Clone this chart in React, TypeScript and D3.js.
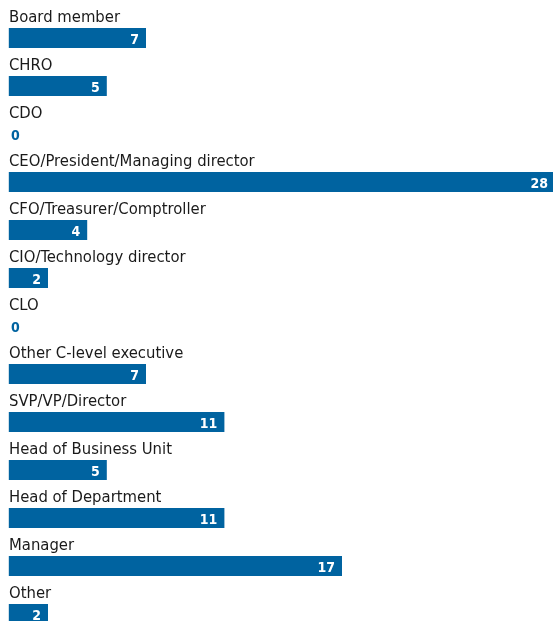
import React from 'react'
import * as d3 from 'd3'

const roles = [
  'Board member',
  'CHRO',
  'CDO',
  'CEO/President/Managing director',
  'CFO/Treasurer/Comptroller',
  'CIO/Technology director',
  'CLO',
  'Other C-level executive',
  'SVP/VP/Director',
  'Head of Business Unit',
  'Head of Department',
  'Manager',
  'Other',
]
const counts = [7, 5, 0, 28, 4, 2, 0, 7, 11, 5, 11, 17, 2]

const BLUE = '#0063a0'
const FONT = '"DejaVu Sans Condensed", "Liberation Sans Narrow", "Open Sans", sans-serif'

const App = () => {
  const width = 553
  const height = 621
  const rowStep = 48
  const barH = 20
  const left = 9

  // the longest bar runs past the right edge and gets clipped, as in the original
  const x = d3.scaleLinear().domain([0, 28]).range([left - 0.2, 557.6])
  const y = d3.scaleBand<number>()
    .domain(d3.range(roles.length))
    .range([8, 8 + rowStep * roles.length])

  return (
    <svg
      width={width}
      height={height}
      style={{ position: 'fixed', left: 0, top: 0, display: 'block' }}
    >
      {roles.map((role, i) => {
        const top = y(i) as number
        const v = counts[i]
        const barEnd = x(v)
        return (
          <g key={role}>
            <text x={left} y={top + 13.5} fontFamily={FONT} fontSize={16.5} fill="#1a1a1a">
              {role}
            </text>
            {v > 0 && (
              <rect x={x(0)} y={top + 20} width={barEnd - x(0)} height={barH} fill={BLUE} />
            )}
            <text
              x={v > 0 ? Math.min(barEnd - 7, 548) : left + 2}
              y={top + 36}
              textAnchor={v > 0 ? 'end' : 'start'}
              fontFamily={FONT}
              fontSize={14}
              fontWeight="bold"
              fill={v > 0 ? '#ffffff' : BLUE}
            >
              {v}
            </text>
          </g>
        )
      })}
    </svg>
  )
}

export default App
